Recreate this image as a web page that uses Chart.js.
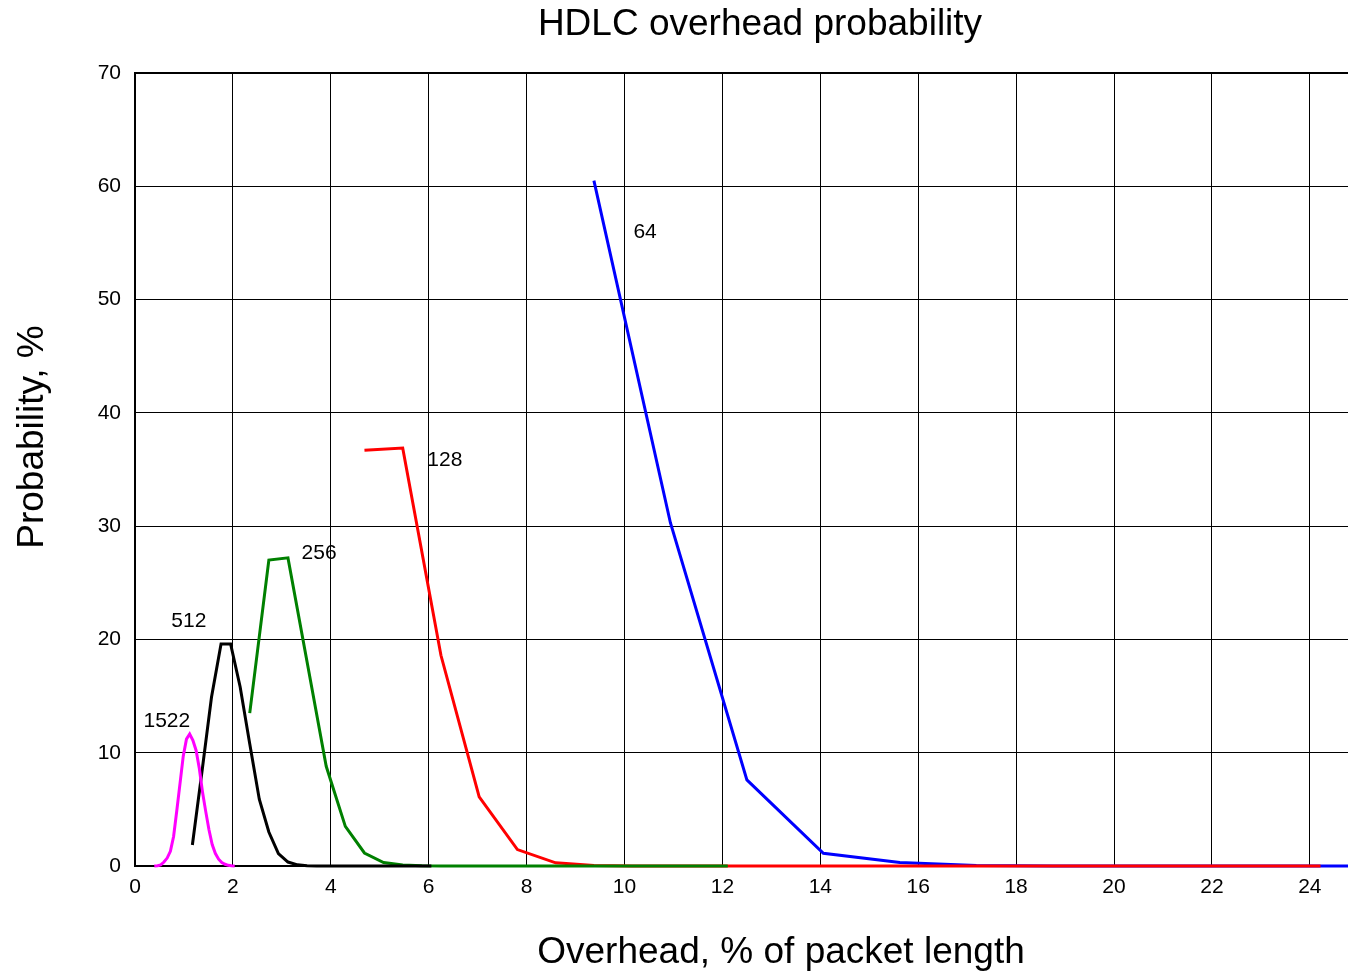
<!DOCTYPE html>
<html><head><meta charset="utf-8">
<script src="https://cdn.jsdelivr.net/npm/chart.js@4.4.1/dist/chart.umd.min.js"></script>
<style>html,body{margin:0;padding:0;background:#fff;overflow:hidden}</style>
</head><body>
<canvas id="c" width="1348" height="972" style="width:1348px;height:972px"></canvas>
<script>
// Packet length series (bytes) and their labels
const seriesNames = ['1522', '512', '256', '128', '64'];
const seriesColors = ['#ff00ff', '#000000', '#008000', '#ff0000', '#0000ff'];

// Overhead (% of packet length) values for each series
const x1522 = [0.3942, 0.4599, 0.5256, 0.5913, 0.6570, 0.7227, 0.7884, 0.8541, 0.9198, 0.9855, 1.0512, 1.1170, 1.1827,
  1.2484, 1.3141, 1.3798, 1.4455, 1.5112, 1.5769, 1.6426, 1.7083, 1.7740, 1.8397, 1.9054, 1.9711, 2.0368];
const y1522 = [0, 0.03, 0.1, 0.35, 0.7, 1.3, 2.6, 4.9, 7.3, 9.7, 11.2, 11.65, 11.1,
  10.2, 8.6, 6.5, 4.8, 3.2, 1.9, 1.1, 0.6, 0.3, 0.15, 0.06, 0.02, 0];

const x512 = [1.171875, 1.3671875, 1.5625, 1.7578125, 1.953125, 2.1484375, 2.34375, 2.5390625, 2.734375, 2.9296875,
  3.125, 3.3203125, 3.515625, 3.7109375, 3.90625, 4.1015625, 4.296875, 4.4921875, 4.6875, 4.8828125, 5.078125,
  5.2734375, 5.46875, 5.6640625, 5.859375, 6.0546875];
const y512 = [1.85, 8.3, 14.9, 19.6, 19.6, 15.8, 10.8, 5.9, 3.0, 1.1,
  0.35, 0.1, 0.03, 0.01, 0, 0, 0, 0, 0, 0, 0,
  0, 0, 0, 0, 0];

const x256 = [2.34375, 2.734375, 3.125, 3.515625, 3.90625, 4.296875, 4.6875, 5.078125, 5.46875, 5.859375, 6.25,
  6.640625, 7.03125, 7.421875, 7.8125, 8.203125, 8.59375, 8.984375, 9.375, 9.765625, 10.15625, 10.546875,
  10.9375, 11.328125, 11.71875, 12.109375];
const y256 = [13.5, 27.0, 27.2, 18.0, 8.8, 3.5, 1.15, 0.3, 0.08, 0.02, 0,
  0, 0, 0, 0, 0, 0, 0, 0, 0, 0, 0,
  0, 0, 0, 0];

const x128 = [4.6875, 5.46875, 6.25, 7.03125, 7.8125, 8.59375, 9.375, 10.15625, 10.9375, 11.71875, 12.5, 13.28125,
  14.0625, 14.84375, 15.625, 16.40625, 17.1875, 17.96875, 18.75, 19.53125, 20.3125, 21.09375, 21.875, 22.65625,
  23.4375, 24.21875];
const y128 = [36.7, 36.9, 18.6, 6.1, 1.45, 0.28, 0.05, 0.01, 0, 0, 0, 0,
  0, 0, 0, 0, 0, 0, 0, 0, 0, 0, 0, 0,
  0, 0];

const x64 = [9.375, 10.9375, 12.5, 14.0625, 15.625, 17.1875, 18.75, 20.3125, 21.875, 23.4375, 25.0];
const y64 = [60.5, 30.3, 7.6, 1.12, 0.3, 0.05, 0.01, 0, 0, 0, 0];

const xTicks = [0, 2, 4, 6, 8, 10, 12, 14, 16, 18, 20, 22, 24];
const yTicks = [0, 10, 20, 30, 40, 50, 60, 70];

const titleText = 'HDLC overhead probability';
const xTitleText = 'Overhead, % of packet length';
const yTitleText = 'Probability, %';

// Curve label anchors, in data coordinates
const labelText = ['64', '128', '256', '512', '1522'];
const labelX = [10.42, 6.33, 3.76, 1.10, 0.65];
const labelY = [55.96, 35.83, 27.63, 21.62, 12.80];

const xs = [x1522, x512, x256, x128, x64];
const ys = [y1522, y512, y256, y128, y64];

const FONT = '"Liberation Sans", Arial, Helvetica, sans-serif';

const datasets = seriesNames.map((name, i) => ({
  label: name,
  data: xs[i].map((x, j) => ({ x: x, y: ys[i][j] })),
  borderColor: seriesColors[i],
  backgroundColor: seriesColors[i],
  borderWidth: 3,
  pointRadius: 0,
  showLine: true,
  tension: 0,
  fill: false,
  clip: { left: 5, top: 5, right: 0, bottom: 5 },
  borderJoinStyle: 'miter'
}));

const decorPlugin = {
  id: 'decor',
  afterDatasetsDraw(chart) {
    const ctx = chart.ctx;
    const xs_ = chart.scales.x, ys_ = chart.scales.y;
    ctx.save();
    ctx.fillStyle = '#000';
    ctx.font = '21px ' + FONT;
    ctx.textAlign = 'center';
    ctx.textBaseline = 'middle';
    labelText.forEach((t, i) => {
      ctx.fillText(t, xs_.getPixelForValue(labelX[i]), ys_.getPixelForValue(labelY[i]));
    });
    ctx.restore();
  },
  afterDraw(chart) {
    const ctx = chart.ctx;
    const a = chart.chartArea;
    ctx.save();
    // top border
    ctx.strokeStyle = '#000';
    ctx.lineWidth = 2;
    ctx.beginPath();
    ctx.moveTo(a.left - 1, a.top);
    ctx.lineTo(a.right, a.top);
    ctx.stroke();
    // titles
    ctx.fillStyle = '#000';
    ctx.font = '37px ' + FONT;
    ctx.textAlign = 'center';
    ctx.textBaseline = 'alphabetic';
    ctx.fillText(titleText, a.left + 625, 35);
    ctx.fillText(xTitleText, a.left + 646, 963);
    ctx.translate(43, 437);
    ctx.rotate(-Math.PI / 2);
    ctx.fillText(yTitleText, 0, 0);
    ctx.restore();
  }
};

new Chart(document.getElementById('c'), {
  type: 'scatter',
  data: { datasets },
  options: {
    responsive: false,
    animation: false,
    events: [],
    layout: { padding: { top: 73, left: 0, right: 0, bottom: 0 } },
    plugins: { legend: { display: false }, tooltip: { enabled: false }, title: { display: false } },
    scales: {
      x: {
        type: 'linear',
        min: 0,
        max: 24.78,
        afterBuildTicks: (s) => { s.ticks = xTicks.map(v => ({ value: v })); },
        afterFit: (s) => { s.height = 106; },
        grid: { color: '#000', lineWidth: 1, drawTicks: false },
        border: { color: '#000', width: 2 },
        ticks: { color: '#000', font: { family: FONT, size: 21 }, padding: 9, maxRotation: 0, autoSkip: false }
      },
      y: {
        type: 'linear',
        min: 0,
        max: 70,
        afterBuildTicks: (s) => { s.ticks = yTicks.map(v => ({ value: v })); },
        afterFit: (s) => { s.width = 135; },
        grid: { color: '#000', lineWidth: 1, drawTicks: false },
        border: { color: '#000', width: 2 },
        ticks: { color: '#000', font: { family: FONT, size: 21 }, padding: 14, autoSkip: false }
      }
    }
  },
  plugins: [decorPlugin]
});
</script>
</body></html>
